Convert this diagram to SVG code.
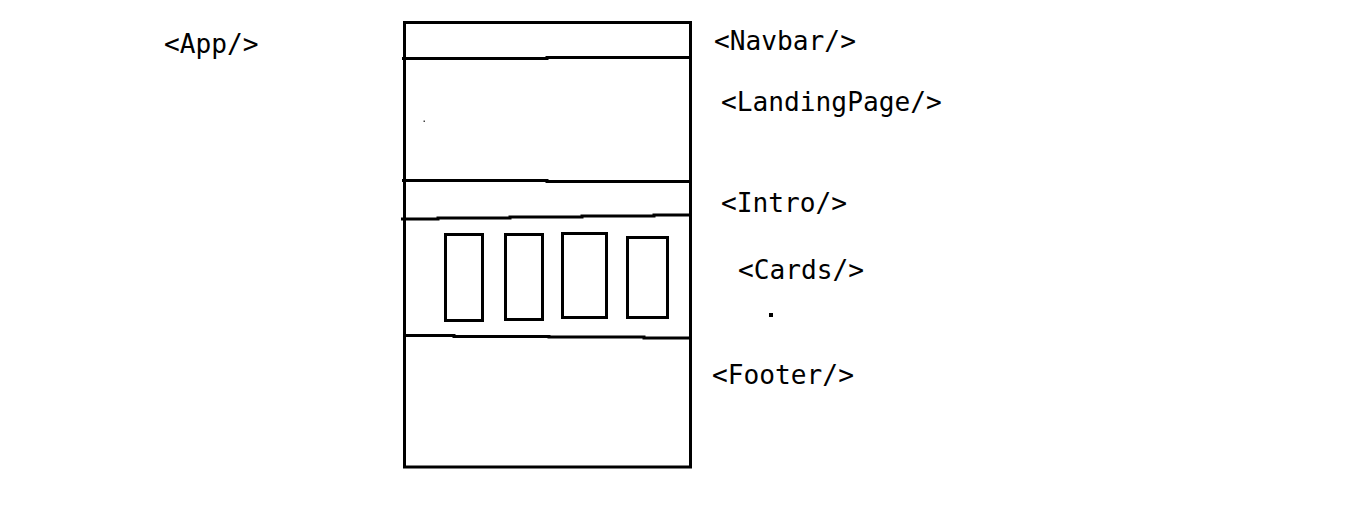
<svg xmlns="http://www.w3.org/2000/svg" width="1355" height="519" viewBox="0 0 1355 519">
<style>
.s{fill:none;stroke:#000;stroke-width:3}
.t{font-family:"DejaVu Sans Mono","Liberation Mono",monospace;font-size:26.2px;fill:#000}
</style>
<rect width="1355" height="519" fill="#fff"/>
<g id="app">
<rect class="s" x="404.5" y="22.5" width="286" height="444.5"/>
<text class="t" x="164" y="53">&lt;App/&gt;</text>
</g>
<g id="navbar">
<polyline class="s" points="402,58.5 547,58.5 547,57.5 692,57.5"/>
<text class="t" x="714" y="50">&lt;Navbar/&gt;</text>
</g>
<g id="landingpage">
<polyline class="s" points="402,180.5 547,180.5 547,181.5 692,181.5"/>
<rect x="423.5" y="120.5" width="1.5" height="1.5" fill="#444"/>
<text class="t" x="721" y="111">&lt;LandingPage/&gt;</text>
</g>
<g id="intro">
<polyline class="s" points="401,219 438,219 438,218 510,218 510,217 582,217 582,216 654,216 654,215 690,215"/>
<text class="t" x="721" y="212">&lt;Intro/&gt;</text>
</g>
<g id="cards">
<rect class="s" x="445.5" y="234.5" width="37" height="86"/>
<rect class="s" x="505.5" y="234.5" width="37" height="85"/>
<rect class="s" x="562.5" y="233.5" width="44" height="84"/>
<rect class="s" x="627.5" y="237.5" width="40" height="80"/>
<rect x="769" y="313" width="4" height="4" fill="#000"/>
<text class="t" x="738" y="279">&lt;Cards/&gt;</text>
</g>
<g id="footer">
<polyline class="s" points="404,335.5 454,335.5 454,336.5 549,336.5 549,337 644,337 644,338 692,338"/>
<text class="t" x="712" y="384">&lt;Footer/&gt;</text>
</g>
<g id="connectors"></g>
</svg>
